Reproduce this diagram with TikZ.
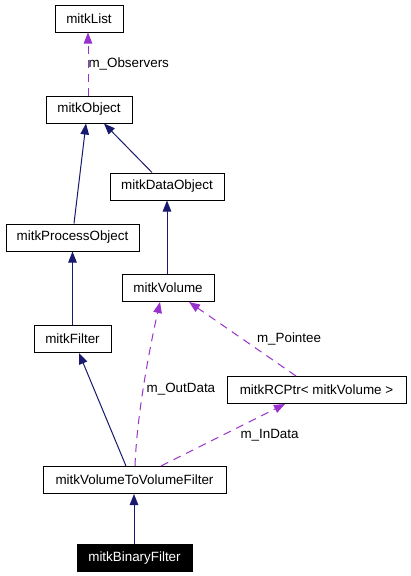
\documentclass[tikz,border=0pt]{standalone}
\usepackage{fontspec}
\setmainfont{Liberation Sans}
\usetikzlibrary{arrows.meta}
\definecolor{inh}{RGB}{25,25,112}
\definecolor{use}{RGB}{153,50,204}
\tikzset{
  cls/.style={draw=black, fill=white, line width=1pt, inner sep=0pt, minimum height=27pt, font=\fontsize{13.4}{15}\selectfont, text=black},
  cur/.style={cls, fill=black, text=white},
  inhedge/.style={draw=inh, line width=1pt, -{Triangle[length=11pt,width=8.5pt,fill=inh]}},
  useedge/.style={draw=use, line width=1pt, dash pattern=on 8pt off 6pt, -{Triangle[length=11pt,width=8.5pt,fill=use]}},
  lbl/.style={font=\fontsize{13.4}{15}\selectfont, inner sep=0pt, anchor=west, text=black}
}
\begin{document}
\begin{tikzpicture}[x=1pt, y=-1pt]
\path[fill=white] (0,0) rectangle (411,576);
\useasboundingbox (0,0) rectangle (411,576);
\node[cls, minimum width=68pt]  (list) at (89,18.5) {mitkList};
\node[cls, minimum width=86pt]  (obj)  at (89,109.5) {mitkObject};
\node[cls, minimum width=114pt] (data) at (167,186.5) {mitkDataObject};
\node[cls, minimum width=133pt] (proc) at (72.5,237.5) {mitkProcessObject};
\node[cls, minimum width=92pt]  (vol)  at (168,288) {mitkVolume};
\node[cls, minimum width=77pt]  (filt) at (72.5,339) {mitkFilter};
\node[cls, minimum width=179pt] (rcp)  at (316.5,390) {mitkRCPtr< mitkVolume >};
\node[cls, minimum width=183pt] (v2v)  at (134.5,480) {mitkVolumeToVolumeFilter};
\node[cur, minimum width=115pt] (bin)  at (134.5,558) {mitkBinaryFilter};

\draw[useedge] ([xshift=-1pt]obj.north) -- node[lbl, pos=0.5] {m\_Observers} ([xshift=-1pt]list.south);
\draw[inhedge] ([xshift=1.5pt]proc.north) -- ([xshift=-3pt]obj.south);
\draw[inhedge] ([xshift=-15pt]data.north) -- ([xshift=15pt]obj.south);
\draw[inhedge] ([xshift=-1pt]vol.north) -- (data.south);
\draw[inhedge] (filt.north) -- (proc.south);
\draw[inhedge] ([xshift=-8.5pt]v2v.north) -- ([xshift=6.5pt]filt.south);
\draw[useedge] ([xshift=0.5pt]v2v.north) .. controls +(2,-55) and +(-9,40) .. node[lbl, pos=0.44, xshift=3pt] {m\_OutData} ([xshift=-8pt]vol.south);
\draw[useedge] ([xshift=26.5pt]v2v.north) -- node[lbl, pos=0.5, xshift=17pt] {m\_InData} ([xshift=-31.5pt]rcp.south);
\draw[useedge] ([xshift=-20.5pt]rcp.north) -- node[lbl, pos=0.5, xshift=14pt] {m\_Pointee} ([xshift=21pt]vol.south);
\draw[inhedge] ([xshift=-0.5pt]bin.north) -- ([xshift=-0.5pt]v2v.south);
\end{tikzpicture}
\end{document}
